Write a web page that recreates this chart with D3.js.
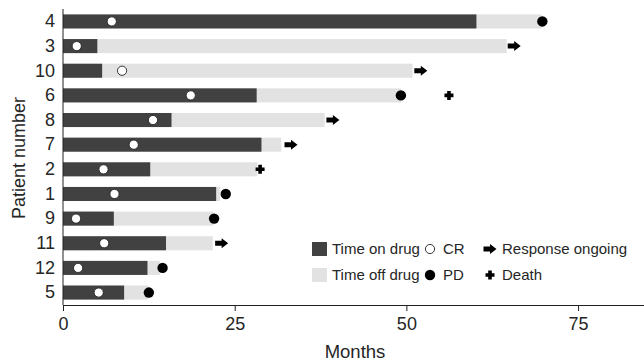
<!DOCTYPE html>
<html>
<head>
<meta charset="utf-8">
<script src="https://cdn.jsdelivr.net/npm/d3@7"></script>
<style>
	body { margin: 0; background: #fff; }
	svg { display: block; font-family: "Liberation Sans", Arial, sans-serif; }
</style>
</head>
<body>
<div id="graph-container"></div>
<script>
// patients from top to bottom, all times in months
const patients = ["4", "3", "10", "6", "8", "7", "2", "1", "9", "11", "12", "5"];
const onDrug = [60.2, 5.0, 5.7, 28.2, 15.8, 28.9, 12.7, 22.3, 7.4, 15.0, 12.3, 8.9];
const totalTime = [69.7, 64.6, 50.9, 49.2, 38.1, 31.8, 28.3, 22.9, 21.9, 21.8, 14.1, 12.4];
const crTime = [7.1, 2.0, 8.6, 18.6, 13.1, 10.3, 5.9, 7.5, 1.9, 6.0, 2.2, 5.2];
const pdTime = [69.8, null, null, 49.2, null, null, null, 23.7, 22.0, null, 14.5, 12.5];
const ongoingTime = [null, 65.7, 52.1, null, 39.3, 33.2, null, null, null, 23.1, null, null];
const deathTime = [null, null, null, 56.2, null, null, 28.7, null, null, null, null, null];
const xTicks = [0, 25, 50, 75];

document.addEventListener("DOMContentLoaded", function () {
	builder();
});

function builder() {
	const w = 644;
	const h = 363;
	const darkCol = "#414141";
	const lightCol = "#e2e2e2";
	const textCol = "#262626";

	const svg = d3
		.select("#graph-container")
		.append("svg")
		.attr("width", w)
		.attr("height", h);

	const x = d3.scaleLinear().domain([0, 84.6]).range([63, 644]);
	const y = d3.scaleBand().domain(patients).range([9, 305]).paddingInner(0.43).paddingOuter(0.22);

	const rows = patients.map((p, i) => ({
		p: p,
		on: onDrug[i],
		total: totalTime[i],
		cr: crTime[i],
		pd: pdTime[i],
		ongoing: ongoingTime[i],
		death: deathTime[i]
	}));
	const cy = (d) => y(d.p) + y.bandwidth() / 2;

	// off-drug bar behind, on-drug bar on top
	svg.selectAll("rect.off")
		.data(rows)
		.enter()
		.append("rect")
		.attr("class", "off")
		.attr("x", x(0))
		.attr("y", (d) => y(d.p))
		.attr("width", (d) => x(d.total) - x(0))
		.attr("height", y.bandwidth())
		.attr("fill", lightCol);

	svg.selectAll("rect.on")
		.data(rows)
		.enter()
		.append("rect")
		.attr("class", "on")
		.attr("x", x(0))
		.attr("y", (d) => y(d.p))
		.attr("width", (d) => x(d.on) - x(0))
		.attr("height", y.bandwidth())
		.attr("fill", darkCol);

	// symbol shapes
	const arrowPath = "M-6.5,-2.5 L0,-2.5 L0,-5 L6.5,0 L0,5 L0,2.5 L-6.5,2.5 Z";
	const plusPath = "M-1.8,-4.5 L1.8,-4.5 L1.8,-1.8 L4.5,-1.8 L4.5,1.8 L1.8,1.8 L1.8,4.5 L-1.8,4.5 L-1.8,1.8 L-4.5,1.8 L-4.5,-1.8 L-1.8,-1.8 Z";

	// CR (open circles)
	svg.selectAll("circle.cr")
		.data(rows)
		.enter()
		.append("circle")
		.attr("class", "cr")
		.attr("cx", (d) => x(d.cr))
		.attr("cy", cy)
		.attr("r", 4.6)
		.attr("fill", "#fff")
		.attr("stroke", "#222")
		.attr("stroke-width", 0.9);

	// PD (filled circles)
	svg.selectAll("circle.pd")
		.data(rows.filter((d) => d.pd != null))
		.enter()
		.append("circle")
		.attr("class", "pd")
		.attr("cx", (d) => x(d.pd))
		.attr("cy", cy)
		.attr("r", 5.2)
		.attr("fill", "#000");

	svg.selectAll("path.ongoing")
		.data(rows.filter((d) => d.ongoing != null))
		.enter()
		.append("path")
		.attr("class", "ongoing")
		.attr("d", arrowPath)
		.attr("transform", (d) => `translate(${x(d.ongoing)},${cy(d)})`)
		.attr("fill", "#000");

	svg.selectAll("path.death")
		.data(rows.filter((d) => d.death != null))
		.enter()
		.append("path")
		.attr("class", "death")
		.attr("d", plusPath)
		.attr("transform", (d) => `translate(${x(d.death)},${cy(d)})`)
		.attr("fill", "#000");

	// axes
	const xAxis = svg.append("g")
		.attr("transform", "translate(0,305)")
		.call(d3.axisBottom(x).tickValues(xTicks).tickSize(6).tickSizeOuter(0).tickPadding(6));
	xAxis.selectAll("text").attr("font-size", 18).attr("fill", textCol).attr("font-family", null);
	xAxis.selectAll("line, path").attr("stroke", "#222");

	const yAxis = svg.append("g")
		.attr("transform", "translate(63,0)")
		.call(d3.axisLeft(y).tickSize(0).tickPadding(8));
	yAxis.select(".domain").attr("stroke", "#222").attr("d", "M0,9V305");
	yAxis.selectAll("text").attr("font-size", 18).attr("fill", textCol).attr("font-family", null);

	svg.append("text")
		.attr("x", 355)
		.attr("y", 358)
		.attr("text-anchor", "middle")
		.attr("font-size", 18.5)
		.attr("fill", textCol)
		.text("Months");

	svg.append("text")
		.attr("transform", "translate(25,158) rotate(-90)")
		.attr("text-anchor", "middle")
		.attr("font-size", 18)
		.attr("fill", textCol)
		.text("Patient number");

	// legend
	const legend = svg.append("g").attr("font-size", 15).attr("fill", textCol);
	const legRows = [249, 275];
	legend.append("rect").attr("x", 312).attr("y", legRows[0] - 7).attr("width", 15).attr("height", 14).attr("fill", darkCol);
	legend.append("rect").attr("x", 312).attr("y", legRows[1] - 7).attr("width", 15).attr("height", 14).attr("fill", lightCol);
	legend.append("text").attr("x", 332).attr("y", legRows[0]).attr("dy", "0.35em").text("Time on drug");
	legend.append("text").attr("x", 332).attr("y", legRows[1]).attr("dy", "0.35em").text("Time off drug");
	legend.append("circle").attr("cx", 430).attr("cy", legRows[0]).attr("r", 4.6)
		.attr("fill", "#fff").attr("stroke", "#222").attr("stroke-width", 0.9);
	legend.append("circle").attr("cx", 430).attr("cy", legRows[1]).attr("r", 5.2).attr("fill", "#000");
	legend.append("text").attr("x", 443).attr("y", legRows[0]).attr("dy", "0.35em").text("CR");
	legend.append("text").attr("x", 443).attr("y", legRows[1]).attr("dy", "0.35em").text("PD");
	legend.append("path").attr("d", arrowPath).attr("transform", `translate(490,${legRows[0]})`).attr("fill", "#000");
	legend.append("path").attr("d", plusPath).attr("transform", `translate(490,${legRows[1]})`).attr("fill", "#000");
	legend.append("text").attr("x", 502).attr("y", legRows[0]).attr("dy", "0.35em").text("Response ongoing");
	legend.append("text").attr("x", 502).attr("y", legRows[1]).attr("dy", "0.35em").text("Death");
}
</script>
</body>
</html>
